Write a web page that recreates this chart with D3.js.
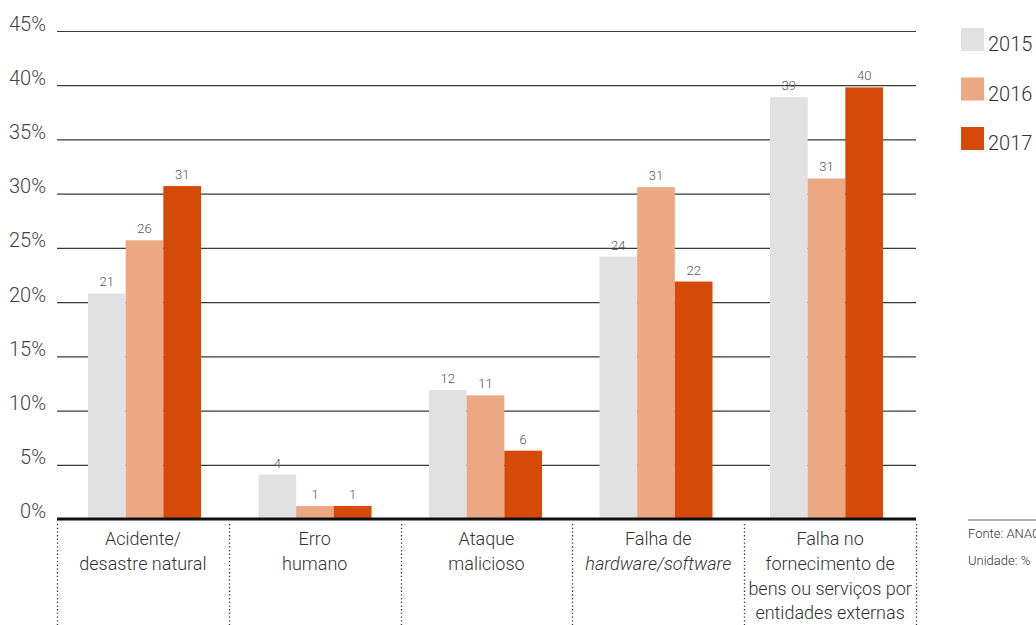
<!DOCTYPE html>
<html>
<head>
<meta charset="utf-8">
<script src="https://cdn.jsdelivr.net/npm/d3@7"></script>
<style>
  html, body { margin: 0; padding: 0; background: #fff; overflow: hidden; }
  svg { display: block; font-family: Roboto, "Open Sans", sans-serif; font-weight: 300; }
</style>
</head>
<body>
<svg id="chart" width="1036" height="625"></svg>
<script>
// Incident causes (percentage of reported incidents per year)
const categories = [
  ["Acidente/", "desastre natural"],
  ["Erro", "humano"],
  ["Ataque", "malicioso"],
  ["Falha de", "hardware/software"],
  ["Falha no", "fornecimento de", "bens ou serviços por", "entidades externas"]
];
const years = ["2015", "2016", "2017"];
const values2015 = [20.8, 4.1, 11.9, 24.2, 38.9];
const values2016 = [25.7, 1.2, 11.4, 30.6, 31.4];
const values2017 = [30.7, 1.2, 6.3, 21.9, 39.8];
const yTicks = [0, 5, 10, 15, 20, 25, 30, 35, 40, 45];
const colors = ["#e1e1e1", "#eba882", "#d54a09"];
const sourceNote = "Fonte: ANACOM";
const unitNote = "Unidade: %";

const series = [values2015, values2016, values2017];
const catKeys = categories.map((c, i) => "c" + i);

const svg = d3.select("#chart");
const plotLeft = 57, plotRight = 916, plotTop = 31, plotBottom = 519;

const y = d3.scaleLinear().domain([0, 45]).range([plotBottom, plotTop]);
// column bands for labels and separators
const xCol = d3.scaleBand().domain(catKeys).range([plotLeft, plotRight]).padding(0);
// bar groups step slightly narrower than the columns
const x0 = d3.scaleBand().domain(catKeys).range([plotLeft, plotLeft + 852.5]).padding(0);
const x1 = d3.scaleBand().domain(years).range([31, 31 + 113]).padding(0);

// horizontal gridlines with percentage labels
const yAxis = d3.axisLeft(y).tickValues(yTicks.slice(1))
  .tickSize(-(plotRight - plotLeft)).tickFormat(d => d + "%");
const ga = svg.append("g").attr("transform", `translate(${plotLeft},0)`).call(yAxis);
ga.select(".domain").remove();
ga.selectAll(".tick line").attr("stroke", "#3a3a3a").attr("stroke-width", 1.2);
ga.selectAll(".tick text")
  .attr("x", -11).attr("dy", "-0.05em")
  .attr("fill", "#444").attr("font-size", 20).attr("font-weight", 300)
  .attr("font-family", "Roboto, sans-serif");
// label for 0% (baseline drawn separately)
svg.append("text").attr("x", plotLeft - 11).attr("y", y(0)).attr("dy", "-0.05em")
  .attr("text-anchor", "end").attr("fill", "#444").attr("font-size", 20)
  .text(yTicks[0] + "%");

// bars
const groups = svg.append("g").selectAll("g")
  .data(catKeys).join("g")
  .attr("transform", d => `translate(${x0(d)},0)`);

groups.selectAll("rect")
  .data((d, i) => years.map((yr, j) => ({ yr, v: series[j][i], j })))
  .join("rect")
  .attr("x", d => x1(d.yr))
  .attr("width", x1.bandwidth())
  .attr("y", d => y(d.v))
  .attr("height", d => y(0) - y(d.v))
  .attr("fill", d => colors[d.j]);

groups.selectAll("text.val")
  .data((d, i) => years.map((yr, j) => ({ yr, v: series[j][i], j })))
  .join("text")
  .attr("class", "val")
  .attr("x", d => x1(d.yr) + x1.bandwidth() / 2)
  .attr("y", d => y(d.v) - 7)
  .attr("text-anchor", "middle")
  .attr("fill", "#555").attr("font-size", 13)
  .text(d => d3.format(".0f")(d.v));

// baseline
svg.append("line").attr("x1", plotLeft).attr("x2", plotRight)
  .attr("y1", y(0)).attr("y2", y(0))
  .attr("stroke", "#111").attr("stroke-width", 3);

// dotted separators between categories
const seps = catKeys.map(k => xCol(k)).concat([plotRight]);
svg.append("g").selectAll("line").data(seps).join("line")
  .attr("x1", d => Math.round(d) + 0.5).attr("x2", d => Math.round(d) + 0.5)
  .attr("y1", 524).attr("y2", 625)
  .attr("stroke", "#333").attr("stroke-width", 1.3)
  .attr("stroke-dasharray", "1.3,2.4");

// category labels
const catText = svg.append("g").selectAll("text").data(categories).join("text")
  .attr("x", (d, i) => xCol(catKeys[i]) + xCol.bandwidth() / 2)
  .attr("y", 545)
  .attr("text-anchor", "middle")
  .attr("fill", "#333").attr("font-size", 18);
catText.each(function(lines) {
  const t = d3.select(this);
  lines.forEach((ln, k) => {
    const ts = t.append("tspan").attr("x", t.attr("x")).attr("dy", k === 0 ? 0 : 24.8);
    if (ln === "hardware/software") {
      ts.attr("font-style", "italic").text(ln);
    } else {
      ts.text(ln);
    }
  });
});

// legend
const legend = svg.append("g").selectAll("g").data(years).join("g")
  .attr("transform", (d, i) => `translate(961,${28 + i * 49.5})`);
legend.append("rect").attr("width", 23).attr("height", 23).attr("fill", (d, i) => colors[i]);
legend.append("text").attr("x", 27).attr("y", 23).attr("fill", "#333")
  .attr("font-size", 20).text(d => d);

// source and unit notes
svg.append("line").attr("x1", 968).attr("x2", 1036).attr("y1", 520).attr("y2", 520)
  .attr("stroke", "#666").attr("stroke-width", 1);
svg.append("text").attr("x", 968).attr("y", 538).attr("fill", "#333").attr("font-size", 13).text(sourceNote);
svg.append("text").attr("x", 968).attr("y", 565).attr("fill", "#333").attr("font-size", 13).text(unitNote);
</script>
</body>
</html>
